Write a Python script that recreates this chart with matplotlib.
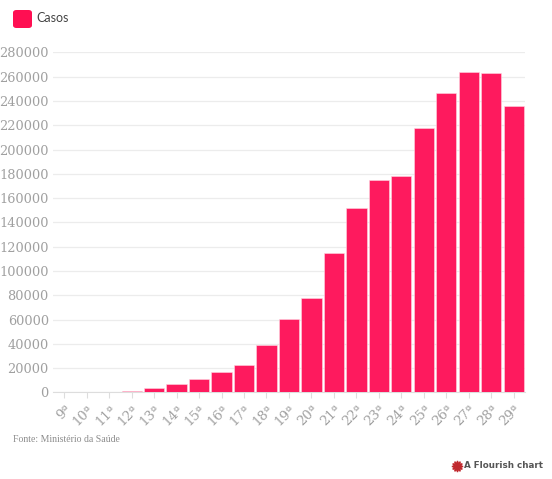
import matplotlib.pyplot as plt
from matplotlib.patches import FancyBboxPatch
from matplotlib.lines import Line2D

# casos por semana epidemiologica
semanas = ["9ª", "10ª", "11ª", "12ª", "13ª", "14ª", "15ª", "16ª", "17ª", "18ª", "19ª",
           "20ª", "21ª", "22ª", "23ª", "24ª", "25ª", "26ª", "27ª", "28ª", "29ª"]
casos = [1, 25, 300, 1600, 3600, 7000, 11300, 16800, 22800, 38700, 60100,
         78000, 115000, 151600, 174900, 178200, 217700, 246700, 263800, 263200, 235600]
yticks = list(range(0, 280001, 20000))

pink = "#fe1a5e"
grey = "#a0a0a0"

fig = plt.figure(figsize=(5.52, 4.79), dpi=100)
ax = fig.add_axes([0.096, 0.1806, 0.855, 0.710])

x = range(len(semanas))
ax.bar(x, casos, width=0.9, color=pink, edgecolor="#ffd6e2", linewidth=0.4, zorder=3)

ax.set_xlim(-0.5, len(semanas) - 0.5)
ax.set_ylim(0, 280000)
ax.set_yticks(yticks)
ax.set_yticklabels([str(v) for v in yticks], fontfamily="DejaVu Serif", fontsize=9.3, color=grey)
ax.set_xticks(list(x))
ax.set_xticklabels(semanas, rotation=45, ha="right", va="top", rotation_mode="anchor",
                   fontfamily="DejaVu Serif", fontsize=9.5, color=grey)
ax.tick_params(axis="y", length=0, pad=3)
ax.tick_params(axis="x", length=4, color="#dddddd", width=0.8, pad=3)

ax.grid(axis="y", color="#ececec", linewidth=0.9, zorder=0)
for s in ["top", "right", "left"]:
    ax.spines[s].set_visible(False)
ax.spines["bottom"].set_color("#dddddd")
ax.spines["bottom"].set_linewidth(0.8)

# legenda
fig.patches.append(FancyBboxPatch((13 / 552, 1 - 28 / 479), 19 / 552, 18 / 479,
                                  boxstyle="round,pad=0,rounding_size=0.006",
                                  transform=fig.transFigure, facecolor="#ff0f52",
                                  edgecolor="none"))
fig.text(36 / 552, 1 - 18.5 / 479, "Casos", fontfamily="Lato", fontsize=9,
         color="#444444", va="center", ha="left")

# rodape
fig.text(13 / 552, 1 - 440 / 479, "Fonte: Ministério da Saúde", fontfamily="Liberation Serif",
         fontsize=7, color="#8c8c8c", va="center", ha="left")
fig.lines.append(Line2D([457 / 552], [1 - 466 / 479], marker=(12, 1, 0), markersize=8,
                        color="#c0282d", transform=fig.transFigure))
fig.text(543 / 552, 1 - 466 / 479, "A Flourish chart", fontfamily="DejaVu Sans",
         fontsize=6.3, fontweight="bold", color="#555555", va="center", ha="right")

fig.savefig("out.png", dpi=100)
